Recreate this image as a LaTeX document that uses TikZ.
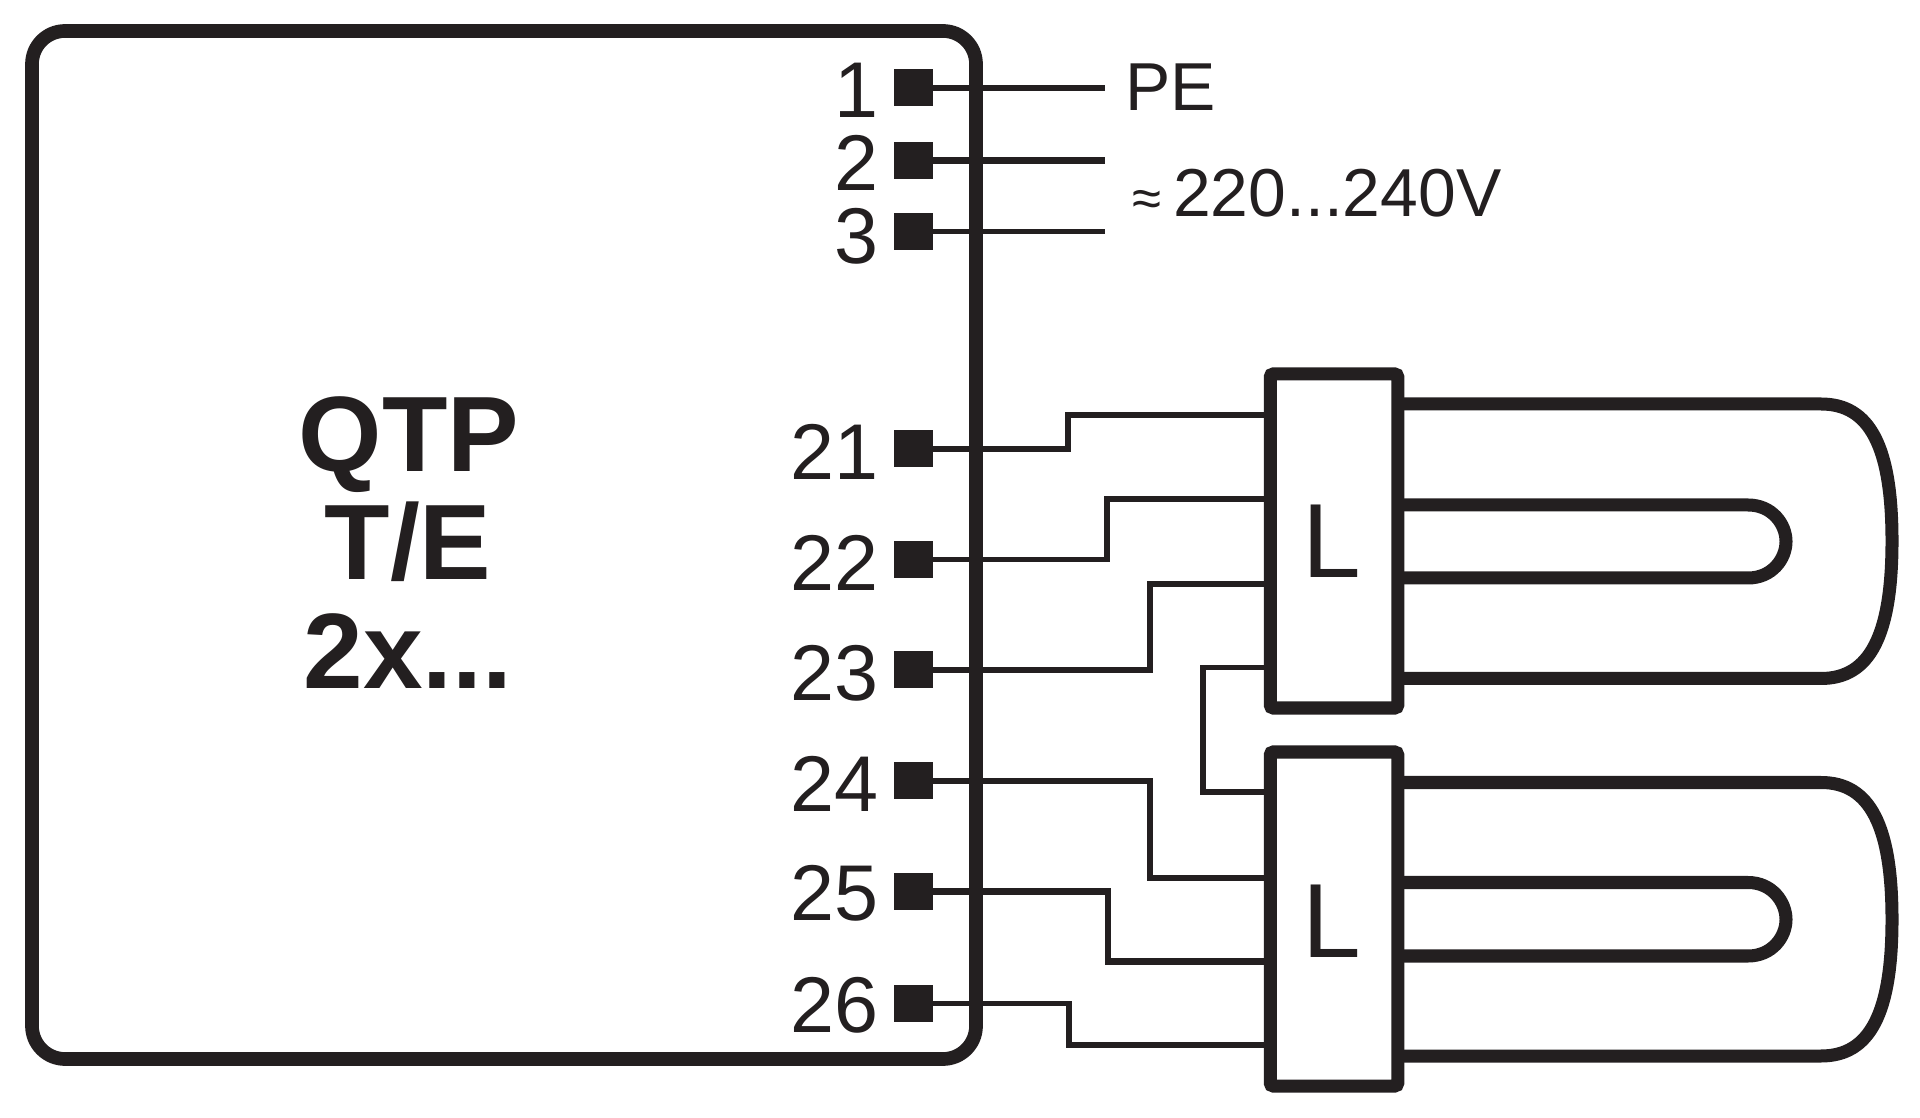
\documentclass[tikz,border=0pt]{standalone}
\usepackage{fontspec}
\setmainfont{Liberation Sans}
\usepackage{tikz}
\usetikzlibrary{positioning}
\definecolor{ink}{HTML}{231F20}
\tikzset{
  terminal/.style={fill=ink,inner sep=0pt,minimum width=3.9mm,minimum height=3.7mm},
  wire/.style={draw=ink,line width=1.5pt},
  heavywire/.style={draw=ink,line width=1.9pt},
  tube/.style={draw=ink,line width=3.7pt},
  socket/.style={draw=ink,line width=3.7pt,fill=white,minimum width=12.75mm,minimum height=33.4mm,inner sep=0pt,rounded corners=0.3mm},
  pinlabel/.style={text=ink,font=\fontsize{22.5pt}{24pt}\selectfont,anchor=east,inner sep=0pt},
  mainslabel/.style={text=ink,font=\fontsize{19.3pt}{22pt}\selectfont,anchor=west,inner sep=0pt},
  lamplabel/.style={text=ink,font=\fontsize{30pt}{30pt}\selectfont,anchor=base,inner sep=0pt},
  title/.style={text=ink,font=\fontsize{30.5pt}{30.5pt}\selectfont\bfseries,anchor=base,inner sep=0pt}
}
\begin{document}
\begin{tikzpicture}
  \useasboundingbox (0,0) rectangle (19.2,11.17);
  % ballast
  \node[draw=ink,line width=3.9pt,rounded corners=3.3mm,minimum width=94.4mm,minimum height=102.8mm,inner sep=0pt] (ballast) at (5.04,5.72) {};
  \node[title] (qtp) at (4.09,6.45) {QTP};
  \node[title] (te) at (4.08,5.37) {T/E};
  \node[title] (size) at (4.08,4.28) {2x...};
  % terminals
  \node[terminal] (t1) at (9.13,10.29) {};
  \node[terminal] (t2) at (9.13,9.565) {};
  \node[terminal] (t3) at (9.13,8.855) {};
  \node[terminal] (t21) at (9.13,6.68) {};
  \node[terminal] (t22) at (9.13,5.575) {};
  \node[terminal] (t23) at (9.13,4.47) {};
  \node[terminal] (t24) at (9.13,3.36) {};
  \node[terminal] (t25) at (9.13,2.255) {};
  \node[terminal] (t26) at (9.13,1.135) {};
  \node[pinlabel] at (8.79,10.27) {1};
  \node[pinlabel] at (8.79,9.545) {2};
  \node[pinlabel] at (8.79,8.805) {3};
  \node[pinlabel] at (8.79,6.655) {21};
  \node[pinlabel] at (8.79,5.54) {22};
  \node[pinlabel] at (8.79,4.44) {23};
  \node[pinlabel] at (8.79,3.33) {24};
  \node[pinlabel] at (8.79,2.235) {25};
  \node[pinlabel] at (8.79,1.12) {26};
  % mains
  \coordinate (pe) at (11.05,10.29);
  \coordinate (la) at (11.05,9.565);
  \coordinate (ne) at (11.05,8.855);
  \draw[wire] (t1) -- (pe);
  \draw[heavywire] (t2) -- (la);
  \draw[wire] (t3) -- (ne);
  \node[mainslabel] (pelabel) at (11.25,10.30) {PE};
  \node[mainslabel] (supply) at (11.32,9.24) {{\fontsize{15pt}{16pt}\selectfont ≈}\hspace{1.15mm}220...240V};
  % lamps
  \draw[tube] (13.98,7.13) -- (18.21,7.13) .. controls (18.70,7.13) and (18.92,6.70) .. (18.92,5.76) .. controls (18.92,4.82) and (18.70,4.385) .. (18.21,4.385) -- (13.98,4.385);
  \draw[tube] (13.98,6.12) -- (17.48,6.12) .. controls (17.72,6.12) and (17.86,5.93) .. (17.86,5.755) .. controls (17.86,5.58) and (17.72,5.39) .. (17.48,5.39) -- (13.98,5.39);
  \draw[tube] (13.98,3.345) -- (18.21,3.345) .. controls (18.70,3.345) and (18.92,2.91) .. (18.92,1.975) .. controls (18.92,1.04) and (18.70,0.61) .. (18.21,0.61) -- (13.98,0.61);
  \draw[tube] (13.98,2.345) -- (17.48,2.345) .. controls (17.72,2.345) and (17.86,2.15) .. (17.86,1.975) .. controls (17.86,1.80) and (17.72,1.61) .. (17.48,1.61) -- (13.98,1.61);
  \node[socket] (lamp1) at (13.34,5.76) {};
  \node[socket] (lamp2) at (13.34,1.98) {};
  \node[lamplabel] (l1) at (13.32,5.39) {L};
  \node[lamplabel] (l2) at (13.32,1.60) {L};
  % wiring to the sockets
  \coordinate (a1) at (lamp1.west |- 0,7.02);
  \coordinate (a2) at (lamp1.west |- 0,6.18);
  \coordinate (a3) at (lamp1.west |- 0,5.33);
  \coordinate (a4) at (lamp1.west |- 0,4.495);
  \coordinate (b1) at (lamp2.west |- 0,3.25);
  \coordinate (b2) at (lamp2.west |- 0,2.39);
  \coordinate (b3) at (lamp2.west |- 0,1.555);
  \coordinate (b4) at (lamp2.west |- 0,0.72);
  \draw[wire] (t21) -| (10.68,7.02) -- (a1);
  \draw[wire] (t22) -| (11.07,6.18) -- (a2);
  \draw[wire] (t23) -| (11.50,5.33) -- (a3);
  \draw[wire] (a4) -| (12.03,3.25) -- (b1);
  \draw[wire] (t24) -| (11.50,2.39) -- (b2);
  \draw[heavywire] (t25) -| (11.08,1.555) -- (b3);
  \draw[wire] (t26) -| (10.69,0.72) -- (b4);
\end{tikzpicture}
\end{document}
